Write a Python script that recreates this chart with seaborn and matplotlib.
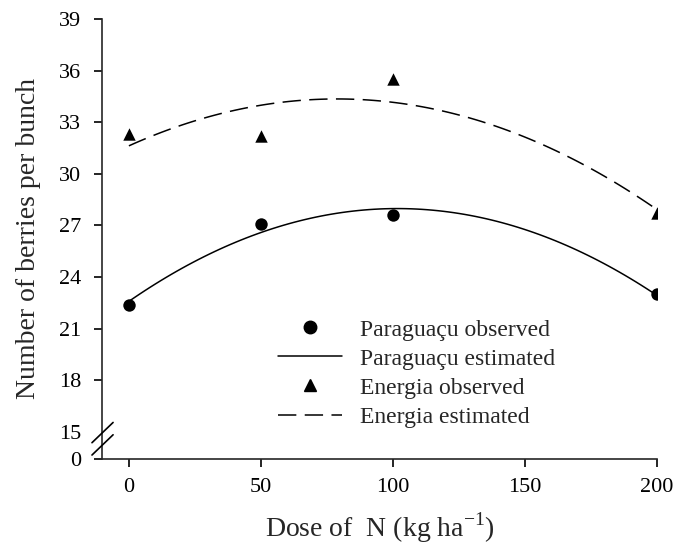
import numpy as np
import pandas as pd
import matplotlib
matplotlib.use("Agg")
import matplotlib.pyplot as plt
from matplotlib.lines import Line2D
import seaborn as sns

# ---- data ----
dose = [0, 50, 100, 200]
paraguacu_obs = [22.4, 27.1, 27.6, 23.0]
energia_obs = [32.3, 32.2, 35.5, 27.7]
y_ticks = [15, 18, 21, 24, 27, 30, 33, 36, 39]
x_ticks = [0, 50, 100, 150, 200]
series_labels = ["Paraguaçu observed", "Paraguaçu estimated",
                 "Energia observed", "Energia estimated"]

df = pd.DataFrame({"dose": dose, "par": paraguacu_obs, "ene": energia_obs})

sns.set_style("ticks")
plt.rcParams["font.family"] = ["Liberation Serif", "DejaVu Serif"]
plt.rcParams["mathtext.fontset"] = "custom"
plt.rcParams["mathtext.rm"] = "Liberation Serif"

fig = plt.figure(figsize=(6.78, 5.51), dpi=100)
ax = fig.add_axes([0.1504, 0.167, 0.8186, 0.7985])

lw = 1.1
dash = (0, (12, 5.5))
# fitted quadratic curves
sns.regplot(data=df, x="dose", y="par", order=2, ci=None, scatter=False,
            truncate=True, color="black", line_kws={"lw": lw, "ls": "-"}, ax=ax)
sns.regplot(data=df, x="dose", y="ene", order=2, ci=None, scatter=False,
            truncate=True, color="black",
            line_kws={"lw": lw, "ls": dash}, ax=ax)
# observed points
sns.scatterplot(data=df, x="dose", y="par", marker="o", s=80, color="black",
                edgecolor="black", linewidth=0, ax=ax, zorder=3)
sns.scatterplot(data=df, x="dose", y="ene", marker="^", s=80, color="black",
                edgecolor="black", linewidth=0, ax=ax, zorder=3)

y_zero = 13.43
ax.set_xlim(-10.2, 200)
ax.set_ylim(y_zero, 39)
ax.set_xticks(x_ticks)
ax.set_xticklabels([str(v) for v in x_ticks])
ax.set_yticks([y_zero] + y_ticks)
ax.set_yticklabels(["0"] + [str(v) for v in y_ticks])
# hide tick line at 15 (covered by axis break)
ax.yaxis.get_major_ticks()[1].tick1line.set_visible(False)

for s in ["top", "right"]:
    ax.spines[s].set_visible(False)
for s in ["left", "bottom"]:
    ax.spines[s].set_linewidth(1.2)
ax.tick_params(axis="both", direction="out", length=6, width=1.2,
               labelsize=16, colors="black")
ax.tick_params(axis="y", pad=9)
ax.tick_params(axis="x", pad=8)

ax.set_xlabel("Dose of  N (kg ha$^{\\mathrm{-1}}$)", fontsize=20, labelpad=9)
ax.set_ylabel("Number of berries per bunch", fontsize=20, labelpad=13)

# axis break marks
for dy in (0.0, 0.028):
    ax.plot([-0.018, 0.020], [0.009 + dy, 0.055 + dy], color="black",
            lw=1.2, transform=ax.transAxes, clip_on=False, zorder=5)

handles = [
    Line2D([], [], color="black", marker="o", ls="none", markersize=9),
    Line2D([], [], color="black", lw=lw, ls="-"),
    Line2D([], [], color="black", marker="^", ls="none", markersize=9),
    Line2D([], [], color="black", lw=lw, ls=dash),
]
ax.legend(handles, series_labels, loc="upper left", bbox_to_anchor=(0.295, 0.345),
          frameon=False, fontsize=17, handlelength=2.75, handletextpad=0.76,
          labelspacing=0.32, borderpad=0)

fig.savefig("out.png", dpi=100)
